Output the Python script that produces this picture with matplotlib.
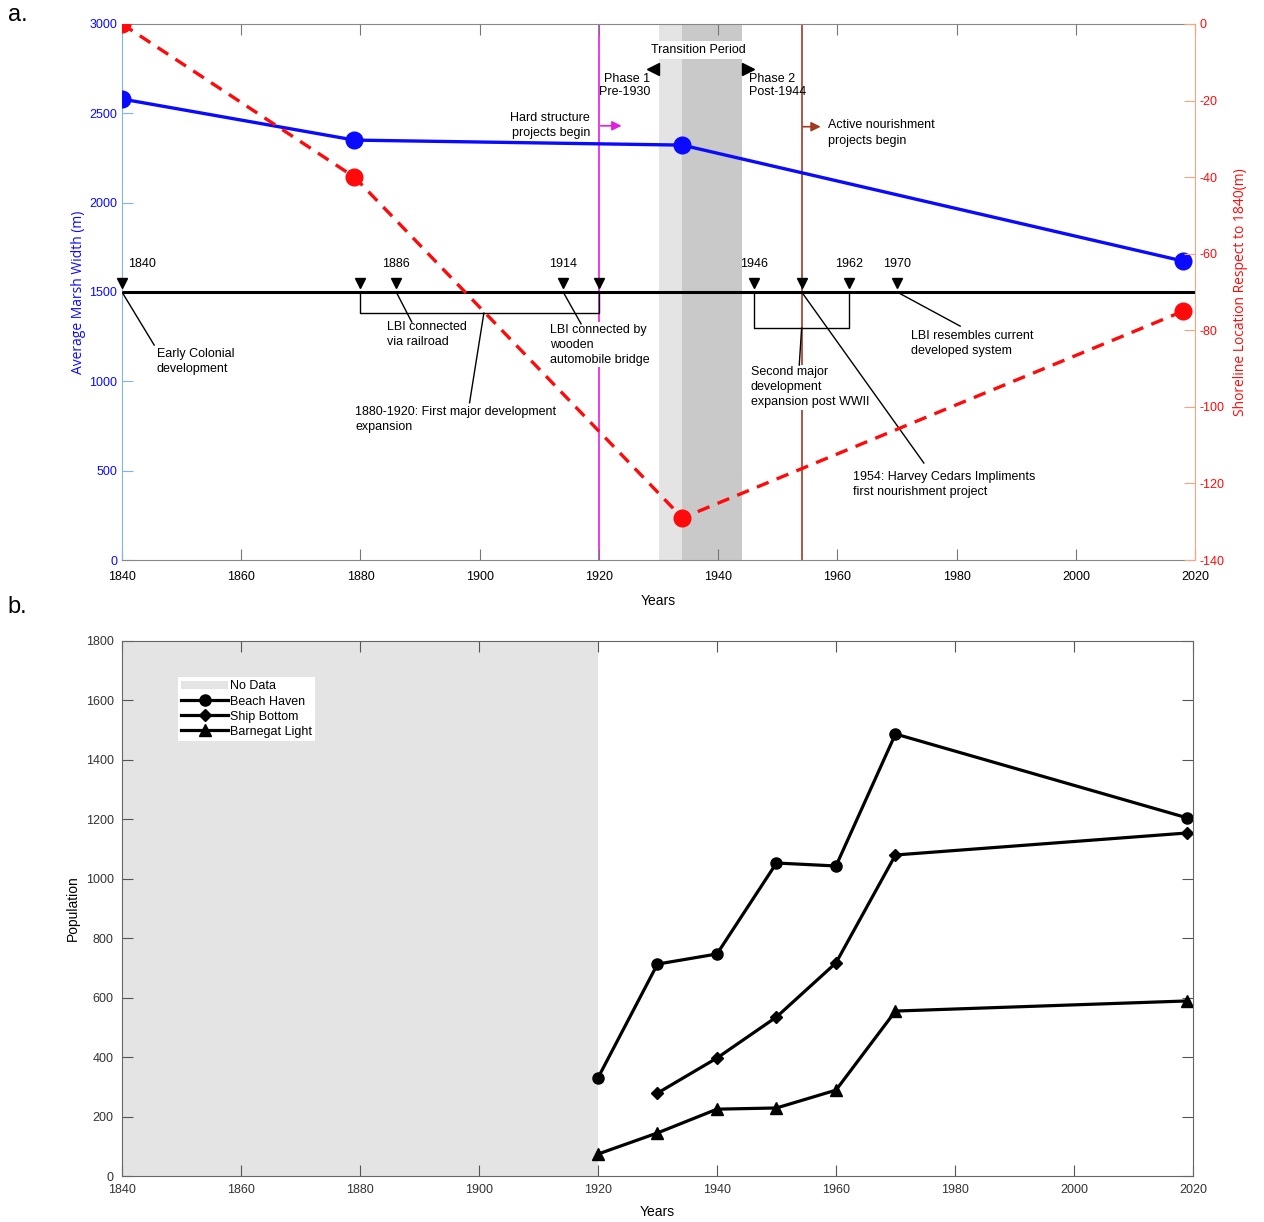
import matplotlib
matplotlib.use('Agg')
import matplotlib.pyplot as plt
from matplotlib.patches import Patch
from matplotlib.lines import Line2D

plt.rcParams['font.family'] = ['Liberation Sans', 'DejaVu Sans']
plt.rcParams['axes.unicode_minus'] = False

# ---------------- data (panel a) ----------------
marsh_years = [1840, 1879, 1934, 2018]
marsh_width = [2580, 2350, 2322, 1673]
shore_loc = [0, -40, -129, -75]

event_years = [1840, 1880, 1886, 1914, 1920, 1946, 1954, 1962, 1970]
label_years = [1840, 1886, 1914, 1946, 1962, 1970]
timeline_level = 1500

# ---------------- data (panel b) ----------------
bh_years = [1920, 1930, 1940, 1950, 1960, 1970, 2019]
beach_haven = [330, 713, 747, 1053, 1043, 1487, 1205]
sb_years = [1930, 1940, 1950, 1960, 1970, 2019]
ship_bottom = [279, 397, 535, 717, 1080, 1154]
bl_years = [1920, 1930, 1940, 1950, 1960, 1970, 2019]
barnegat_light = [74, 145, 225, 229, 289, 555, 589]

blue = '#0a0aff'
red = '#ff0a0a'
magenta = '#e31ee3'
brown = '#a33a24'
fs = 9

fig = plt.figure(figsize=(12.64, 12.22), dpi=100)

# ================= panel a =================
ax = fig.add_axes([0.0965, 0.5417, 0.849, 0.4387])
ax.set_xlim(1840, 2020)
ax.set_ylim(0, 3000)

ax.axvspan(1930, 1934, color='#e4e4e4', lw=0, zorder=0)
ax.axvspan(1934, 1944, color='#c9c9c9', lw=0, zorder=0)
ax.axvline(1920, color=magenta, lw=1.2, zorder=1)
ax.axvline(1954, color=brown, lw=1.2, zorder=1)

# timeline
ax.axhline(timeline_level, color='black', lw=2.2, zorder=2)
ax.plot(event_years, [timeline_level + 52] * len(event_years), 'v', color='black', ms=7.5, zorder=3, clip_on=False)
for yr in label_years:
    if yr == 1840:
        ax.text(yr + 1, 1655, str(yr), fontsize=fs, ha='left', va='center')
    else:
        ax.text(yr, 1655, str(yr), fontsize=fs, ha='center', va='center')

# brackets
ax.plot([1880, 1880, 1920, 1920], [1500, 1382, 1382, 1500], color='black', lw=1, zorder=2)
ax.plot([1946, 1946, 1962, 1962], [1500, 1298, 1298, 1500], color='black', lw=1, zorder=2)

# leader lines + texts
notes = [
    ('Early Colonial\ndevelopment', (1845.8, 1185), (1840, 1500), (1845.4, 1203)),
    ('LBI connected\nvia railroad', (1884.5, 1340), (1886, 1500), (1888.6, 1332)),
    ('LBI connected by\nwooden\nautomobile bridge', (1911.8, 1322), (1914, 1500), (1917, 1322)),
    ('1880-1920: First major development\nexpansion', (1879.1, 862), (1900.7, 1382), (1898.3, 880)),
    ('Second major\ndevelopment\nexpansion post WWII', (1945.5, 1086), (1954, 1298), (1953.6, 1091)),
    ('1954: Harvey Cedars Impliments\nfirst nourishment project', (1962.6, 500), (1954, 1500), (1974.5, 543)),
    ('LBI resembles current\ndeveloped system', (1972.4, 1290), (1970, 1500), (1980.6, 1309)),
]
for txt, pos, p0, p1 in notes:
    ax.plot([p0[0], p1[0]], [p0[1], p1[1]], color='black', lw=1, zorder=5)
    ax.text(pos[0], pos[1], txt, fontsize=fs, ha='left', va='top', zorder=4,
            linespacing=1.35, bbox=dict(facecolor='white', edgecolor='none', pad=1))

# phase labels
ax.text(1936.6, 2854, 'Transition Period', fontsize=fs, ha='center', va='center', zorder=4,
        bbox=dict(facecolor='white', edgecolor='none', pad=2))
ax.plot([1929], [2748], '<', color='black', ms=9, zorder=4)
ax.plot([1945], [2748], '>', color='black', ms=9, zorder=4)
ax.text(1928.6, 2655, 'Phase 1\nPre-1930', fontsize=fs, ha='right', va='center', linespacing=1.05)
ax.text(1945.2, 2655, 'Phase 2\nPost-1944', fontsize=fs, ha='left', va='center', linespacing=1.05)

ax.text(1918.5, 2434, 'Hard structure\nprojects begin', fontsize=fs, ha='right', va='center', linespacing=1.35)
ax.annotate('', xy=(1923.8, 2430), xytext=(1920.3, 2430),
            arrowprops=dict(arrowstyle='-|>', color=magenta, lw=1.2, mutation_scale=14, shrinkA=0, shrinkB=0))
ax.text(1958.5, 2390, 'Active nourishment\nprojects begin', fontsize=fs, ha='left', va='center', linespacing=1.35)
ax.annotate('', xy=(1957.2, 2425), xytext=(1954.2, 2425),
            arrowprops=dict(arrowstyle='-|>', color=brown, lw=1.2, mutation_scale=14, shrinkA=0, shrinkB=0))

ax.plot(marsh_years, marsh_width, '-o', color=blue, lw=2.4, ms=12, zorder=6)

ax.set_xticks(range(1840, 2021, 20))
ax.set_yticks(range(0, 3001, 500))
ax.tick_params(axis='x', direction='in', top=True, length=8, color='#777777', labelsize=fs, pad=8)
ax.tick_params(axis='y', direction='in', length=8, color='#7fb6e6', labelcolor=blue, labelsize=fs)
ax.spines['left'].set_color('#7fb6e6')
ax.spines['top'].set_color('#888888')
ax.spines['bottom'].set_color('#888888')
ax.spines['right'].set_visible(False)
ax.set_xlabel('Years', fontsize=10, labelpad=8)
ax.set_ylabel('Average Marsh Width (m)', fontsize=10, color=blue, family=['Open Sans', 'DejaVu Sans'],
              labelpad=2)

ax2 = ax.twinx()
ax2.set_ylim(-140, 0)
ax2.plot(marsh_years, shore_loc, '--o', color=red, lw=2.4, ms=12, dashes=(3.8, 2.6), zorder=5)
ax2.set_yticks(range(-140, 1, 20))
ax2.tick_params(axis='y', direction='in', length=8, color='#f4a582', labelcolor=red, labelsize=fs)
ax2.spines['right'].set_color('#f4a582')
for s in ['left', 'top', 'bottom']:
    ax2.spines[s].set_visible(False)
ax2.set_ylabel('Shoreline Location Respect to 1840(m)', fontsize=10, color=red,
               family=['Open Sans', 'DejaVu Sans'], labelpad=6)

# ================= panel b =================
bx = fig.add_axes([0.0965, 0.0376, 0.8473, 0.4379])
bx.set_xlim(1840, 2020)
bx.set_ylim(0, 1800)
bx.axvspan(1840, 1920, color='#e4e4e4', lw=0, zorder=0)
bx.plot(bh_years, beach_haven, '-o', color='black', lw=2.3, ms=8, clip_on=False)
bx.plot(sb_years, ship_bottom, '-D', color='black', lw=2.3, ms=6.5, clip_on=False)
bx.plot(bl_years, barnegat_light, '-^', color='black', lw=2.3, ms=9, clip_on=False)
bx.set_xticks(range(1840, 2021, 20))
bx.set_yticks(range(0, 1801, 200))
bx.tick_params(direction='in', top=True, right=True, length=8, color='#555555',
               labelcolor='#333333', labelsize=fs, pad=6)
for s in bx.spines.values():
    s.set_color('#666666')
bx.set_xlabel('Years', fontsize=10, labelpad=6)
bx.set_ylabel('Population', fontsize=10, labelpad=4)

handles = [Patch(facecolor='#e4e4e4', edgecolor='none'),
           Line2D([], [], color='black', lw=2.3, marker='o', ms=8),
           Line2D([], [], color='black', lw=2.3, marker='D', ms=6.5),
           Line2D([], [], color='black', lw=2.3, marker='^', ms=9)]
leg = bx.legend(handles, ['No Data', 'Beach Haven', 'Ship Bottom', 'Barnegat Light'],
                loc='upper left', bbox_to_anchor=(0.052, 0.932), fontsize=9,
                frameon=True, fancybox=False, borderpad=0.25, labelspacing=0.25,
                handlelength=3.8, handletextpad=0.15, borderaxespad=0)
leg.get_frame().set_facecolor('white')
leg.get_frame().set_edgecolor('none')
leg.get_frame().set_alpha(1)

fig.text(0.006, 0.988, 'a.', fontsize=17, va='center')
fig.text(0.006, 0.503, 'b.', fontsize=17, va='center')

fig.savefig('out.png', dpi=100)
